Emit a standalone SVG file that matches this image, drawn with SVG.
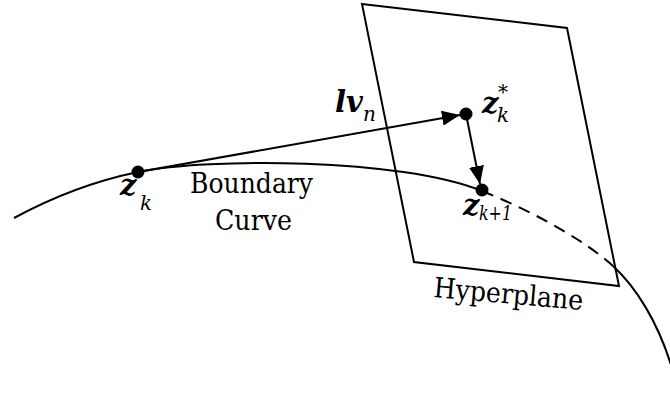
<svg xmlns="http://www.w3.org/2000/svg" width="670" height="394" viewBox="0 0 670 394">
<style>
.ln{fill:none;stroke:#000;stroke-width:2}
text{font-family:'DejaVu Serif','Liberation Serif',serif;fill:#000}
.bi{font-weight:bold;font-style:italic;font-size:29px}
.sub{font-style:italic;font-size:20px}
.lab{font-size:28px}
</style>
<defs>
<marker id="ah" markerUnits="userSpaceOnUse" markerWidth="20" markerHeight="16" refX="18" refY="7.5" orient="auto">
<path d="M0,0 L18,7.5 L0,15 Z" fill="#000"/>
</marker>
</defs>
<g id="hyperplane">
<polygon class="ln" points="362,4 567,28 619,286 414,262"/>
<text class="lab" transform="translate(433,297) rotate(5)" textLength="150" lengthAdjust="spacingAndGlyphs">Hyperplane</text>
</g>
<g id="boundary-curve">
<path class="ln" d="M14,218 Q75,185 138,172 C208,157.5 400,158 482,191"/>
<path class="ln" stroke-dasharray="12,8" d="M482,191 C542,215 590,245 613,266"/>
<path class="ln" d="M613,266 C636,287 658,322 672,368"/>
<text class="lab" x="190" y="193" textLength="123" lengthAdjust="spacingAndGlyphs">Boundary</text>
<text class="lab" x="215" y="230" textLength="77" lengthAdjust="spacingAndGlyphs">Curve</text>
</g>
<g id="connectors">
<line class="ln" x1="138" y1="172" x2="460" y2="115" marker-end="url(#ah)"/>
<line class="ln" x1="466" y1="114" x2="480" y2="184" marker-end="url(#ah)"/>
</g>
<g id="zk">
<circle cx="138" cy="172" r="6.5" fill="#000"/>
<text class="bi" x="120" y="195">z</text>
<text class="sub" x="140" y="210">k</text>
</g>
<g id="zk-star">
<circle cx="466" cy="114" r="6.5" fill="#000"/>
<text class="bi" x="482" y="113">z</text>
<text class="sub" x="497" y="122">k</text>
<text class="sub" x="498" y="99">*</text>
</g>
<g id="zk1">
<circle cx="482" cy="190" r="6.5" fill="#000"/>
<text class="bi" x="463" y="215">z</text>
<text class="sub" x="479" y="220" textLength="33" lengthAdjust="spacingAndGlyphs">k+1</text>
</g>
<g id="lvn">
<text class="bi" x="335" y="112">lv</text>
<text class="sub" x="363" y="121">n</text>
</g>
</svg>
